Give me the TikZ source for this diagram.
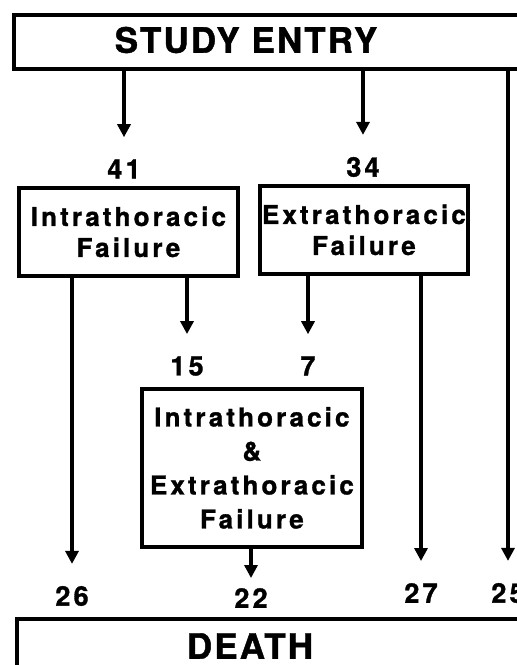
\documentclass[tikz,border=0pt]{standalone}
\usepackage{fontspec}
\usepackage{tikz}
\usetikzlibrary{positioning,arrows.meta,calc}
\newfontfamily\headfont[LetterSpace=6, BoldFeatures={FakeBold=1.2}]{TeX Gyre Heros}
\newfontfamily\boxfont[LetterSpace=12, BoldFeatures={FakeBold=1.2}]{TeX Gyre Heros}
\tikzset{
  stage/.style={draw, line width=3.8pt, anchor=north west, inner sep=0pt},
  headtxt/.style={font=\headfont\bfseries\fontsize{35}{38}\selectfont, inner sep=0pt},
  failbox/.style={stage, align=center, font=\boxfont\bfseries\fontsize{26}{31}\selectfont},
  count/.style={font=\boxfont\bfseries\fontsize{27}{30}\selectfont, inner sep=0pt},
  flow/.style={-{Triangle[length=13pt,width=13pt]}, line width=3.2pt, shorten >=22pt}
}

\begin{document}
\begin{tikzpicture}[x=1pt, y=-1pt]
\useasboundingbox (0,0) rectangle (517,665);
\clip (0,0) rectangle (517,665);
\node[stage, minimum width=560pt, minimum height=54pt] (entry) at (12,13) {};
\node[headtxt] (entrytxt) at (246,40) {STUDY ENTRY};
\node[count] (n41) at (124,169) {41};
\node[count] (n34) at (363,167) {34};
\node[failbox, minimum width=219pt, minimum height=88pt] (intra) at (17,186) {Intrathoracic\\Failure};
\node[failbox, minimum width=208pt, minimum height=88pt] (extra) at (258,184) {Extrathoracic\\Failure};
\node[count] (n15) at (187,366) {15};
\node[count] (n7) at (308,366) {7};
\node[failbox, minimum width=220pt, minimum height=158pt, font=\boxfont\bfseries\fontsize{26}{34}\selectfont] (both) at (140,387) {Intrathoracic\\\&\\Extrathoracic\\Failure};
\node[count] (n26) at (72,596) {26};
\node[count] (n22) at (251,598) {22};
\node[count] (n27) at (421,593) {27};
\node[count] (n25) at (508,593) {25};
\node[stage, minimum width=560pt, minimum height=80pt] (death) at (15,617) {};
\node[headtxt] (deathtxt) at (250,646) {DEATH};
\draw[flow] (entry.south -| n41) -- (n41.north);
\draw[flow] (entry.south -| n34) -- (n34.north);
\draw[flow] (entry.south -| n25) -- (n25.north);
\draw[flow] (intra.south -| n26) -- (n26.north);
\draw[flow] (intra.south -| n15) -- (n15.north);
\draw[flow] (extra.south -| n7) -- (n7.north);
\draw[flow] (extra.south -| n27) -- (n27.north);
\draw[flow, shorten >=10pt] (both.south -| n22) -- (n22.north);
\end{tikzpicture}
\end{document}
